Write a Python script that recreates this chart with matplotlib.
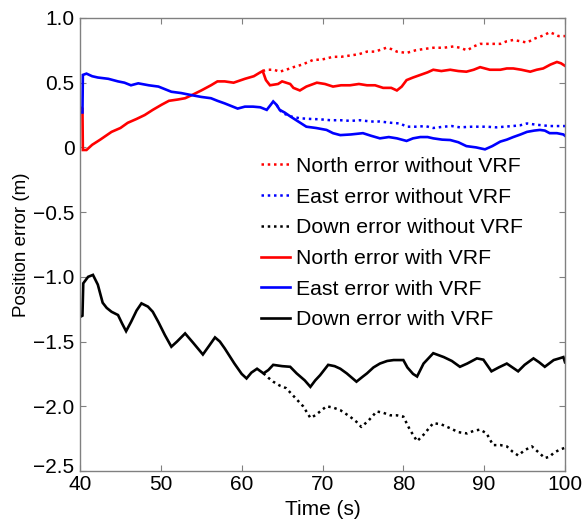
import matplotlib
matplotlib.use("Agg")
import matplotlib.pyplot as plt
from matplotlib.lines import Line2D
from matplotlib.ticker import FixedLocator, FuncFormatter
from matplotlib.transforms import ScaledTranslation

plt.rcParams['font.family'] = ['Liberation Sans', 'DejaVu Sans']

# ---------------- data ----------------
# North error: shared part, then tails with / without VRF
t_north_common = [40.0, 40.3, 40.35, 40.8, 41.5, 42.5, 43.9, 45.0, 45.9, 47.0, 48.0, 49.0,
                  50.1, 51.0, 52.1, 53.0, 53.7, 55.0, 56.2, 57.0, 57.9, 59.0, 60.4, 61.5,
                  62.3, 62.6]
north_common = [0.31, 0.30, -0.02, -0.02, 0.02, 0.06, 0.12, 0.15, 0.19, 0.22, 0.25, 0.29,
                0.33, 0.36, 0.37, 0.38, 0.40, 0.44, 0.48, 0.51, 0.51, 0.50, 0.53, 0.55,
                0.58, 0.59]
t_north_vrf = [63.0, 63.5, 64.5, 65.0, 66.0, 66.4, 67.2, 68.0, 69.3, 70.3, 71.3, 72.3, 73.4,
               74.5, 75.5, 76.5, 77.5, 78.5, 79.2, 79.8, 80.4, 81.2, 82.1, 83.0, 83.7, 84.7,
               85.8, 86.8, 87.8, 88.7, 89.5, 90.7, 92.0, 92.8, 93.6, 94.6, 95.7, 96.5, 97.3,
               98.2, 99.0, 99.5, 100.0]
north_vrf = [0.52, 0.48, 0.49, 0.51, 0.49, 0.46, 0.44, 0.47, 0.50, 0.49, 0.47, 0.48, 0.48,
             0.49, 0.48, 0.48, 0.46, 0.46, 0.44, 0.47, 0.52, 0.54, 0.56, 0.58, 0.60, 0.59,
             0.60, 0.59, 0.585, 0.60, 0.62, 0.60, 0.60, 0.61, 0.61, 0.60, 0.585, 0.60, 0.61,
             0.64, 0.66, 0.65, 0.63]
t_north_novrf = [63.1, 64.0, 64.7, 65.5, 66.4, 67.5, 68.8, 70.0, 71.3, 72.3, 73.4, 74.5, 75.5,
                 76.5, 77.9, 78.5, 79.2, 80.4, 81.5, 82.5, 83.7, 85.0, 86.2, 87.0, 87.9, 88.7,
                 89.5, 90.7, 92.0, 92.8, 93.6, 94.5, 95.3, 96.2, 96.9, 97.5, 98.1, 98.5, 99.2,
                 100.0]
north_novrf = [0.60, 0.60, 0.585, 0.60, 0.62, 0.64, 0.675, 0.68, 0.70, 0.70, 0.71, 0.72, 0.74,
               0.74, 0.77, 0.76, 0.74, 0.73, 0.75, 0.76, 0.77, 0.77, 0.78, 0.77, 0.75, 0.78,
               0.80, 0.80, 0.80, 0.82, 0.83, 0.82, 0.81, 0.84, 0.855, 0.87, 0.89, 0.88, 0.86,
               0.86]

# East error
t_east_common = [40.0, 40.3, 40.35, 40.8, 41.5, 42.2, 43.5, 44.7, 45.5, 46.3, 47.2, 48.5,
                 49.7, 50.5, 51.3, 52.5, 53.7, 55.0, 56.2, 57.0, 57.9, 58.7, 59.5, 60.4,
                 61.4, 62.3, 63.1, 63.6, 63.9, 64.3]
east_common = [0.27, 0.27, 0.56, 0.57, 0.55, 0.54, 0.53, 0.51, 0.50, 0.48, 0.495, 0.48,
               0.47, 0.45, 0.43, 0.42, 0.405, 0.39, 0.38, 0.36, 0.34, 0.32, 0.30, 0.315,
               0.315, 0.31, 0.29, 0.33, 0.355, 0.33]
t_east_vrf = [64.7, 65.3, 66.0, 67.0, 68.0, 69.2, 70.5, 71.3, 72.2, 73.5, 75.0, 76.0, 77.1,
              78.2, 79.2, 80.4, 81.2, 82.1, 83.0, 83.7, 84.8, 85.8, 86.8, 87.8, 89.0, 90.1,
              91.0, 92.0, 92.8, 93.6, 94.5, 95.3, 96.2, 96.9, 97.5, 98.1, 99.0, 99.8, 100.0]
east_vrf = [0.29, 0.27, 0.24, 0.20, 0.16, 0.15, 0.135, 0.11, 0.095, 0.10, 0.11, 0.09, 0.07,
            0.08, 0.07, 0.05, 0.07, 0.08, 0.08, 0.07, 0.06, 0.057, 0.04, 0.01, 0.00, -0.015,
            0.01, 0.045, 0.06, 0.08, 0.10, 0.12, 0.13, 0.135, 0.13, 0.11, 0.11, 0.10, 0.09]
t_east_novrf = [64.7, 65.1, 66.0, 67.2, 68.5, 69.7, 71.0, 72.2, 73.5, 74.6, 76.0, 77.1, 78.5,
                79.6, 80.4, 81.7, 82.7, 83.7, 85.0, 86.0, 87.0, 88.5, 90.3, 91.5, 92.5, 93.5,
                94.4, 95.3, 96.5, 98.1, 99.0, 100.0]
east_novrf = [0.29, 0.265, 0.24, 0.225, 0.22, 0.217, 0.21, 0.21, 0.205, 0.21, 0.20, 0.20, 0.19,
              0.185, 0.16, 0.16, 0.165, 0.15, 0.16, 0.165, 0.155, 0.16, 0.16, 0.155, 0.16,
              0.165, 0.17, 0.185, 0.175, 0.165, 0.165, 0.165]

# Down error
t_down_common = [40.0, 40.3, 40.4, 41.0, 41.6, 42.2, 42.8, 43.3, 43.9, 44.7, 45.2, 45.7, 46.3,
                 47.0, 47.6, 48.4, 49.0, 49.7, 50.5, 51.3, 52.0, 53.0, 54.0, 55.2, 56.0, 56.7,
                 57.3, 57.9, 59.1, 60.0, 60.6, 61.2, 61.9, 62.7]
down_common = [-1.31, -1.30, -1.05, -1.00, -0.985, -1.06, -1.20, -1.24, -1.27, -1.295, -1.36,
               -1.42, -1.35, -1.26, -1.205, -1.23, -1.27, -1.35, -1.45, -1.54, -1.50, -1.437,
               -1.51, -1.60, -1.53, -1.468, -1.50, -1.553, -1.67, -1.75, -1.785, -1.74, -1.71,
               -1.746]
t_down_vrf = [63.3, 63.9, 65.0, 66.0, 66.8, 67.8, 68.5, 69.1, 69.7, 70.7, 71.5, 72.2, 73.0,
              74.2, 75.0, 75.5, 76.3, 77.1, 78.0, 78.8, 80.0, 80.5, 81.2, 81.7, 82.5, 83.7,
              85.0, 86.0, 87.0, 87.9, 89.1, 89.9, 90.9, 91.8, 92.8, 93.5, 94.2, 95.0, 96.1,
              96.8, 97.5, 98.6, 99.3, 99.8, 100.0]
down_vrf = [-1.72, -1.68, -1.69, -1.695, -1.746, -1.80, -1.85, -1.80, -1.76, -1.68, -1.69,
            -1.71, -1.746, -1.81, -1.77, -1.746, -1.70, -1.67, -1.65, -1.643, -1.643, -1.70,
            -1.75, -1.77, -1.67, -1.59, -1.62, -1.65, -1.695, -1.67, -1.63, -1.64, -1.73,
            -1.70, -1.67, -1.70, -1.73, -1.68, -1.63, -1.66, -1.695, -1.643, -1.63, -1.62,
            -1.66]
t_down_novrf = [63.3, 63.9, 64.7, 65.5, 66.4, 67.0, 67.6, 68.0, 68.5, 69.1, 69.7, 70.5, 71.3,
                72.2, 73.4, 74.2, 74.8, 75.7, 76.7, 77.5, 78.4, 79.2, 80.0, 80.8, 81.7, 82.5,
                83.7, 84.7, 85.8, 86.8, 87.9, 88.7, 89.5, 90.3, 91.1, 92.0, 92.8, 93.5, 94.2,
                95.0, 95.9, 96.8, 97.5, 98.1, 98.6, 99.2, 100.0]
down_novrf = [-1.78, -1.81, -1.84, -1.86, -1.92, -1.96, -2.00, -2.04, -2.09, -2.07, -2.04,
              -2.00, -2.01, -2.03, -2.08, -2.12, -2.16, -2.11, -2.04, -2.05, -2.07, -2.07,
              -2.08, -2.18, -2.27, -2.22, -2.13, -2.14, -2.17, -2.20, -2.21, -2.19, -2.18,
              -2.21, -2.30, -2.30, -2.31, -2.35, -2.38, -2.34, -2.31, -2.36, -2.40, -2.39,
              -2.36, -2.34, -2.32]

x_ticks = [40, 50, 60, 70, 80, 90, 100]
y_ticks = [-2.5, -2.0, -1.5, -1.0, -0.5, 0, 0.5, 1.0]
legend_labels = ["North error without VRF", "East error without VRF", "Down error without VRF",
                 "North error with VRF", "East error with VRF", "Down error with VRF"]

# ---------------- figure ----------------
fig = plt.figure(figsize=(5.82, 5.21), dpi=100)
ax = fig.add_axes([0.1375, 0.096, 0.8333, 0.8695])

lw_s = 1.9
lw_d = 1.8
dot = (0, (1, 1.5))

series = [
    (t_north_common, north_common, t_north_novrf, north_novrf, t_north_vrf, north_vrf, '#ff0000'),
    (t_east_common, east_common, t_east_novrf, east_novrf, t_east_vrf, east_vrf, '#0000ff'),
    (t_down_common, down_common, t_down_novrf, down_novrf, t_down_vrf, down_vrf, '#000000'),
]
for tc, vc, tn, vn, tv, vv, col in series:
    ax.plot([tc[-1]] + tn, [vc[-1]] + vn, color=col, lw=lw_d, linestyle=dot)
for tc, vc, tn, vn, tv, vv, col in series:
    ax.plot(tc + tv, vc + vv, color=col, lw=lw_s, solid_joinstyle='miter')

ax.set_xlim(40, 100)
ax.set_ylim(-2.5, 1.0)
ax.xaxis.set_major_locator(FixedLocator(x_ticks))
ax.yaxis.set_major_locator(FixedLocator(y_ticks))

def yfmt(v, pos):
    if abs(v) < 1e-9:
        return "0"
    s = "%.1f" % abs(v)
    return ("\u2212" + s) if v < 0 else s

ax.yaxis.set_major_formatter(FuncFormatter(yfmt))
ax.xaxis.set_major_formatter(FuncFormatter(lambda v, p: "%d" % v))

frame_col = '#808080'
for sp in ax.spines.values():
    sp.set_color(frame_col)
    sp.set_linewidth(1.0)
ax.tick_params(direction='in', length=4, width=0.8, color=frame_col,
               top=True, right=True, labelsize=15, labelcolor='black')
ax.tick_params(axis='x', pad=3)
ax.tick_params(axis='y', pad=4)

ax.set_xlabel("Time (s)", fontsize=15, labelpad=4)
ax.set_ylabel("Position error (m)", fontsize=13.5, labelpad=2)

# lift the lowest y tick label a little, as in the reference
yt = ax.yaxis.get_major_ticks()
yt[0].label1.set_transform(yt[0].label1.get_transform()
                           + ScaledTranslation(0, 4 / 72, fig.dpi_scale_trans))

handles = [
    Line2D([], [], color='#ff0000', lw=lw_d, linestyle=dot),
    Line2D([], [], color='#0000ff', lw=lw_d, linestyle=dot),
    Line2D([], [], color='#000000', lw=lw_d, linestyle=dot),
    Line2D([], [], color='#ff0000', lw=lw_s),
    Line2D([], [], color='#0000ff', lw=lw_s),
    Line2D([], [], color='#000000', lw=lw_s),
]
ax.legend(handles, legend_labels, loc='center left', bbox_to_anchor=(0.373, 0.503),
          frameon=False, fontsize=15.3, handlelength=1.37, handletextpad=0.28,
          labelspacing=0.55, borderaxespad=0, borderpad=0)

fig.savefig("out.png", dpi=100)
